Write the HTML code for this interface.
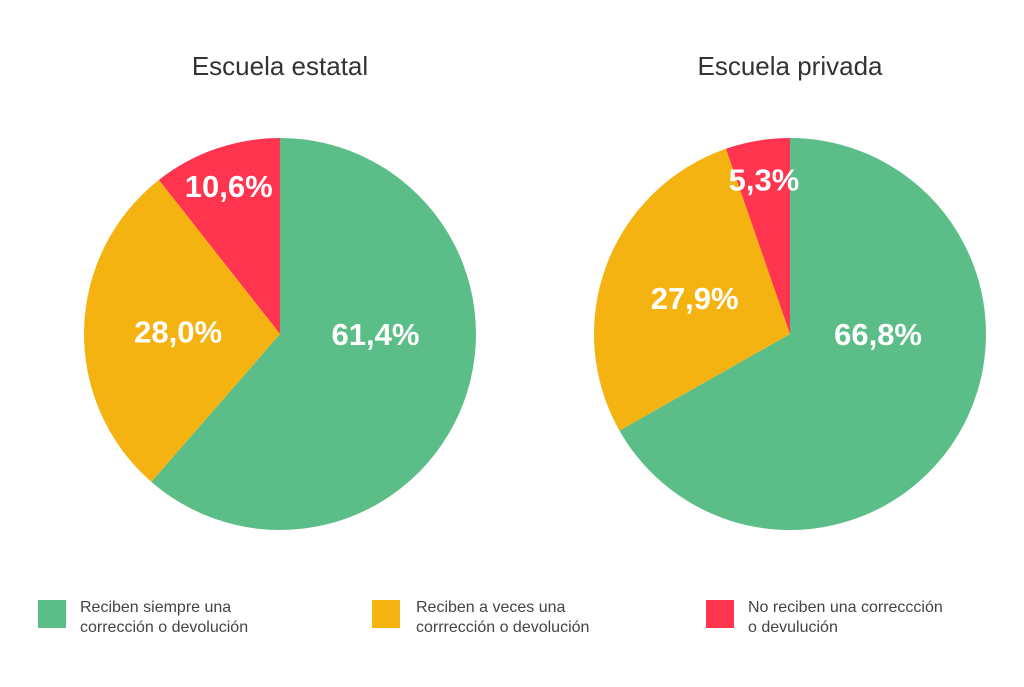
<!DOCTYPE html>
<html><head><meta charset="utf-8"><style>
body{margin:0;background:#fff;width:1024px;height:682px;overflow:hidden;font-family:"Liberation Sans",sans-serif}
</style></head><body>
<svg width="1024" height="682">
<g id="charts"></g>
<g font-size="16" fill="#444">
 <g><rect x="38" y="600" width="28" height="28" fill="#5BBD87"/><text x="80" y="612">Reciben siempre una</text><text x="80" y="632">corrección o devolución</text></g>
 <g><rect x="372" y="600" width="28" height="28" fill="#F5B311"/><text x="416" y="612">Reciben a veces una</text><text x="416" y="632">corrrección o devolución</text></g>
 <g><rect x="706" y="600" width="28" height="28" fill="#FF344F"/><text x="748" y="612">No reciben una correccción</text><text x="748" y="632">o devulución</text></g>
</g>
</svg>
<script>
const titles=["Escuela estatal","Escuela privada"];
const estatal=[61.4,28.0,10.6];
const privada=[66.8,27.9,5.3];
const labelsEstatal=["61,4%","28,0%","10,6%"];
const labelsPrivada=["66,8%","27,9%","5,3%"];
const colors=["#5BBD87","#F5B311","#FF344F"];
const NS="http://www.w3.org/2000/svg";
const g=document.getElementById('charts');
function pie(cx,cy,r,vals,labels,title,name){
 const grp=document.createElementNS(NS,'g');
 
 
 g.appendChild(grp);
 const t=document.createElementNS(NS,'text');
 
 
 t.setAttribute('x',cx);t.setAttribute('y',75);t.setAttribute('text-anchor','middle');
 t.setAttribute('font-size','26');t.setAttribute('fill','#333');t.textContent=title;grp.appendChild(t);
 const tot=vals.reduce((a,b)=>a+b,0);let acc=0;
 vals.forEach((v,i)=>{
  const a0=acc/tot*2*Math.PI;acc+=v;const a1=acc/tot*2*Math.PI;
  const x0=cx+r*Math.sin(a0),y0=cy-r*Math.cos(a0),x1=cx+r*Math.sin(a1),y1=cy-r*Math.cos(a1);
  const p=document.createElementNS(NS,'path');
  
  
  p.setAttribute('d',`M${cx},${cy}L${x0},${y0}A${r},${r} 0 ${(a1-a0)>Math.PI?1:0} 1 ${x1},${y1}Z`);
  p.setAttribute('fill',colors[i]);grp.appendChild(p);
 });
 acc=0;
 vals.forEach((v,i)=>{
  const am=(acc+v/2)/tot*2*Math.PI;acc+=v;
  const f=v/tot<0.15?0.8:0.52;
  let lx=cx+f*r*Math.sin(am),ly=cy-f*r*Math.cos(am);
  if(i===0)ly=cy;
  const l=document.createElementNS(NS,'text');
  
  
  l.setAttribute('x',lx);l.setAttribute('y',ly+11);l.setAttribute('text-anchor','middle');
  l.setAttribute('font-size','31');l.setAttribute('font-weight','bold');l.setAttribute('fill','#fff');
  l.textContent=labels[i];grp.appendChild(l);
 });
}
pie(280,334,196,estatal,labelsEstatal,titles[0],'pie-escuela-estatal');
pie(790,334,196,privada,labelsPrivada,titles[1],'pie-escuela-privada');
</script>
</body></html>
